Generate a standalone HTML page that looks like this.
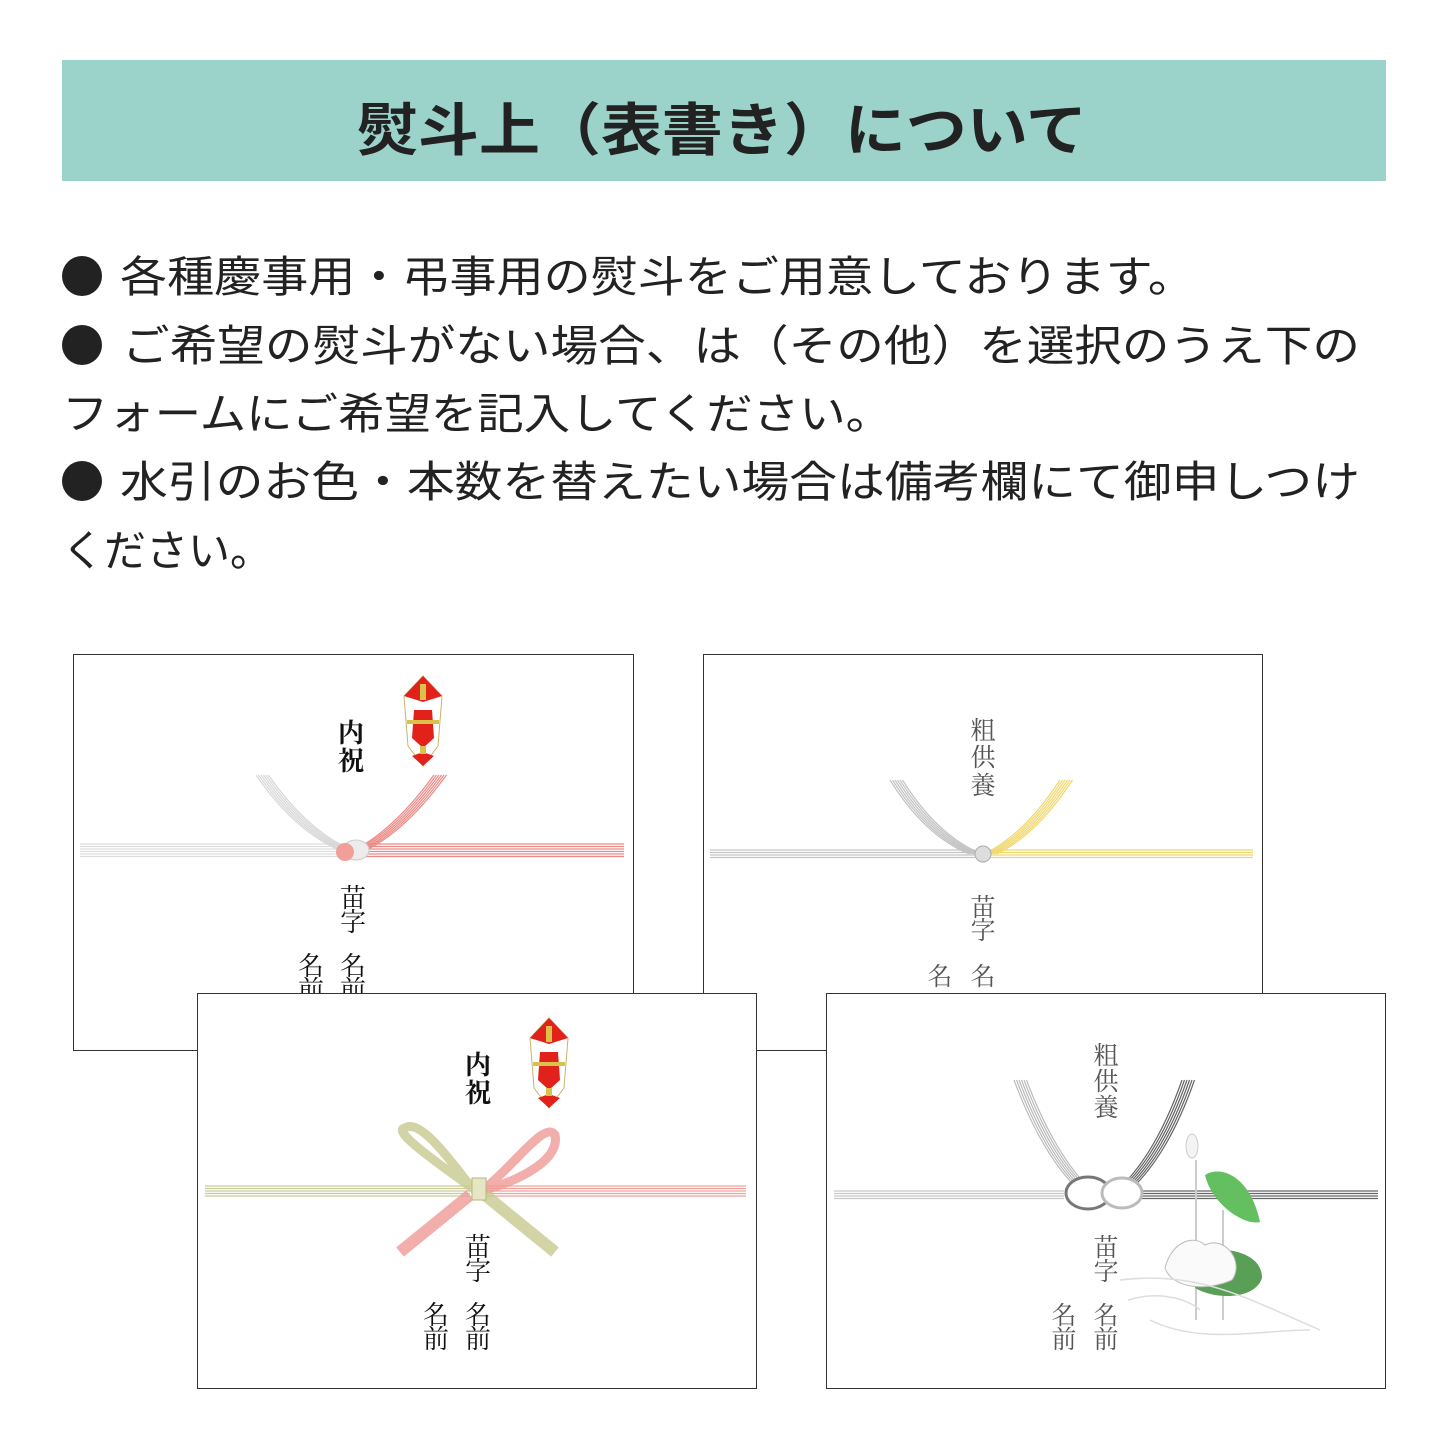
<!DOCTYPE html>
<html><head><meta charset="utf-8"><style>
html,body{margin:0;padding:0;background:#fff}
svg{display:block}
.s{font-family:"Liberation Serif","Noto Serif CJK JP","Noto Serif CJK SC",serif}
.g{font-family:"Liberation Sans","Noto Sans CJK JP",sans-serif}
</style></head><body>
<svg width="1445" height="1445" viewBox="0 0 1445 1445" xmlns="http://www.w3.org/2000/svg">
<defs>
<g id="noshi">
<path d="M19 0 L38 20 L34 70 L19 90 L4 70 L0 20 Z" fill="#fff" stroke="#c9b36a" stroke-width="1"/>
<path d="M19 0 L38 20 L19 26 L0 20 Z" fill="#e3211b"/>
<path d="M10 34 L28 34 L30 62 L19 72 L8 62 Z" fill="#e3211b"/>
<path d="M19 76 L30 80 L19 90 L8 80 Z" fill="#e3211b"/>
<rect x="16" y="8" width="6" height="16" fill="#d9c24a"/>
<rect x="3" y="44" width="32" height="4" fill="#d9c24a"/>
<rect x="16" y="70" width="6" height="8" fill="#d9c24a"/>
</g>
<path id="cL1" d="M262 775 Q300 830 345 850"/>
<path id="cR1" d="M440 775 Q400 830 360 850"/>
<path id="cL2" d="M896 780 Q930 835 975 854"/>
<path id="cR2" d="M1066 780 Q1030 835 990 854"/>
<path id="cL3" d="M1020 1080 Q1050 1160 1090 1195"/>
<path id="cR3" d="M1188 1080 Q1160 1160 1118 1195"/>
</defs>
<rect x="62" y="60" width="1324" height="121" fill="#9bd3ca"/>
<text x="722" y="150" text-anchor="middle" class="g" font-size="57" font-weight="bold" fill="#222" textLength="730" lengthAdjust="spacingAndGlyphs">熨斗上（表書き）について</text>

<g class="g" font-size="43" fill="#222">
<circle cx="82" cy="276" r="20"/>
<text x="120" y="292" textLength="1075" lengthAdjust="spacingAndGlyphs">各種慶事用・弔事用の熨斗をご用意しております。</text>
<circle cx="82" cy="345" r="20"/>
<text x="122" y="361" textLength="1238" lengthAdjust="spacingAndGlyphs">ご希望の熨斗がない場合、は（その他）を選択のうえ下の</text>
<text x="62" y="429" textLength="830" lengthAdjust="spacingAndGlyphs">フォームにご希望を記入してください。</text>
<circle cx="82" cy="481" r="20"/>
<text x="120" y="497" textLength="1240" lengthAdjust="spacingAndGlyphs">水引のお色・本数を替えたい場合は備考欄にて御申しつけ</text>
<text x="62" y="566" textLength="210" lengthAdjust="spacingAndGlyphs">ください。</text>
</g>

<!-- TL card -->
<rect x="73.5" y="654.5" width="560" height="396" fill="#fff" stroke="#333"/>
<g stroke-width="1.2">
<g stroke="#ddd"><line x1="80" y1="844" x2="345" y2="844"/><line x1="80" y1="846.5" x2="345" y2="846.5"/><line x1="80" y1="849" x2="345" y2="849"/><line x1="80" y1="851.5" x2="345" y2="851.5"/><line x1="80" y1="854" x2="345" y2="854"/><line x1="80" y1="856.5" x2="345" y2="856.5"/></g>
<g stroke="#ec8a86"><line x1="360" y1="844" x2="624" y2="844"/><line x1="360" y1="846.5" x2="624" y2="846.5"/><line x1="360" y1="849" x2="624" y2="849"/><line x1="360" y1="851.5" x2="624" y2="851.5"/><line x1="360" y1="854" x2="624" y2="854"/><line x1="360" y1="856.5" x2="624" y2="856.5"/></g>
<g fill="none" stroke="#d8d8d8"><use href="#cL1" x="-6"/><use href="#cL1" x="-3.5"/><use href="#cL1" x="-1"/><use href="#cL1" x="1.5"/><use href="#cL1" x="4"/><use href="#cL1" x="6.5"/></g>
<g fill="none" stroke="#ec8a86"><use href="#cR1" x="-6"/><use href="#cR1" x="-3.5"/><use href="#cR1" x="-1"/><use href="#cR1" x="1.5"/><use href="#cR1" x="4"/><use href="#cR1" x="6.5"/></g>
</g>
<ellipse cx="356" cy="850" rx="13" ry="10" fill="#ececec" stroke="#ccc"/>
<ellipse cx="345" cy="852" rx="9" ry="9" fill="#f29f9a"/>
<use href="#noshi" x="404" y="676"/>
<g class="s" font-size="26" fill="#111" text-anchor="middle">
<text x="351" y="742" font-weight="bold">内</text><text x="351" y="770" font-weight="bold">祝</text>
<text x="353" y="907">苗</text><text x="353" y="931">字</text>
<text x="311" y="975">名</text><text x="353" y="975">名</text>
<text x="311" y="999">前</text><text x="353" y="999">前</text>
</g>

<!-- TR card -->
<rect x="703.5" y="654.5" width="559" height="396" fill="#fff" stroke="#333"/>
<g stroke-width="1.2">
<g stroke="#c4c4c4"><line x1="710" y1="850" x2="975" y2="850"/><line x1="710" y1="852.5" x2="975" y2="852.5"/><line x1="710" y1="855" x2="975" y2="855"/><line x1="710" y1="857.5" x2="975" y2="857.5"/></g>
<g stroke="#f0d870"><line x1="990" y1="850" x2="1253" y2="850"/><line x1="990" y1="852.5" x2="1253" y2="852.5"/><line x1="990" y1="855" x2="1253" y2="855"/><line x1="990" y1="857.5" x2="1253" y2="857.5"/></g>
<g fill="none" stroke="#c4c4c4"><use href="#cL2" x="-6"/><use href="#cL2" x="-3.5"/><use href="#cL2" x="-1"/><use href="#cL2" x="1.5"/><use href="#cL2" x="4"/><use href="#cL2" x="6.5"/></g>
<g fill="none" stroke="#f0d870"><use href="#cR2" x="-6"/><use href="#cR2" x="-3.5"/><use href="#cR2" x="-1"/><use href="#cR2" x="1.5"/><use href="#cR2" x="4"/><use href="#cR2" x="6.5"/></g>
</g>
<ellipse cx="983" cy="854" rx="8" ry="8" fill="#ddd" stroke="#aaa"/>
<g class="s" font-size="25" fill="#555" text-anchor="middle">
<text x="983" y="739">粗</text><text x="983" y="766">供</text><text x="983" y="794">養</text>
<text x="983" y="916">苗</text><text x="983" y="939">字</text>
<text x="940" y="985">名</text><text x="983" y="985">名</text>
</g>

<!-- BL card -->
<rect x="197.5" y="993.5" width="559" height="395" fill="#fff" stroke="#333"/>
<g stroke-width="1.2">
<g stroke="#c9cb9a"><line x1="205" y1="1186" x2="470" y2="1186"/><line x1="205" y1="1188.5" x2="470" y2="1188.5"/><line x1="205" y1="1191" x2="470" y2="1191"/><line x1="205" y1="1193.5" x2="470" y2="1193.5"/><line x1="205" y1="1196" x2="470" y2="1196"/></g>
<g stroke="#f0a09c"><line x1="485" y1="1186" x2="746" y2="1186"/><line x1="485" y1="1188.5" x2="746" y2="1188.5"/><line x1="485" y1="1191" x2="746" y2="1191"/><line x1="485" y1="1193.5" x2="746" y2="1193.5"/><line x1="485" y1="1196" x2="746" y2="1196"/></g>
</g>
<path d="M475 1190 C440 1165 390 1130 405 1128 C420 1118 450 1160 472 1188" fill="none" stroke="#c8c98f" stroke-width="9" opacity="0.8"/>
<path d="M483 1190 C515 1165 545 1120 555 1135 C560 1160 520 1180 485 1190" fill="none" stroke="#ef9a96" stroke-width="9" opacity="0.8"/>
<path d="M470 1195 L400 1252" fill="none" stroke="#ef9a96" stroke-width="12" opacity="0.8"/>
<path d="M485 1195 L555 1252" fill="none" stroke="#c8c98f" stroke-width="12" opacity="0.8"/>
<rect x="472" y="1178" width="14" height="22" fill="#e6e6c4" stroke="#b5b67a"/>
<use href="#noshi" x="530" y="1018"/>
<g class="s" font-size="26" fill="#111" text-anchor="middle">
<text x="478" y="1074" font-weight="bold">内</text><text x="478" y="1102" font-weight="bold">祝</text>
<text x="478" y="1256">苗</text><text x="478" y="1280">字</text>
<text x="436" y="1324">名</text><text x="478" y="1324">名</text>
<text x="436" y="1348">前</text><text x="478" y="1348">前</text>
</g>

<!-- BR card -->
<rect x="826.5" y="993.5" width="559" height="395" fill="#fff" stroke="#333"/>
<g stroke-width="1.2">
<g stroke="#c8c8c8"><line x1="834" y1="1191" x2="1064" y2="1191"/><line x1="834" y1="1193.5" x2="1064" y2="1193.5"/><line x1="834" y1="1196" x2="1064" y2="1196"/><line x1="834" y1="1198.5" x2="1064" y2="1198.5"/></g>
<g stroke="#666"><line x1="1130" y1="1191" x2="1378" y2="1191"/><line x1="1130" y1="1193.5" x2="1378" y2="1193.5"/><line x1="1130" y1="1196" x2="1378" y2="1196"/><line x1="1130" y1="1198.5" x2="1378" y2="1198.5"/></g>
<g fill="none" stroke="#bbb"><use href="#cL3" x="-6"/><use href="#cL3" x="-3.5"/><use href="#cL3" x="-1"/><use href="#cL3" x="1.5"/><use href="#cL3" x="4"/><use href="#cL3" x="6.5"/></g>
<g fill="none" stroke="#666"><use href="#cR3" x="-6"/><use href="#cR3" x="-3.5"/><use href="#cR3" x="-1"/><use href="#cR3" x="1.5"/><use href="#cR3" x="4"/><use href="#cR3" x="6.5"/></g>
</g>
<ellipse cx="1088" cy="1193" rx="22" ry="16" fill="#fff" stroke="#777" stroke-width="3"/>
<ellipse cx="1122" cy="1193" rx="20" ry="15" fill="#fff" stroke="#bbb" stroke-width="3"/>
<line x1="1196" y1="1160" x2="1196" y2="1320" stroke="#ccc" stroke-width="2"/>
<line x1="1223" y1="1210" x2="1223" y2="1320" stroke="#ccc" stroke-width="2"/>
<path d="M1205 1175 C1220 1165 1250 1175 1260 1222 C1245 1226 1212 1205 1205 1175 Z" fill="#63bf5f"/>
<path d="M1195 1252 C1225 1245 1262 1252 1262 1278 C1255 1300 1215 1300 1195 1288 Z" fill="#5a9f56"/>
<ellipse cx="1192" cy="1146" rx="6" ry="12" fill="#f4f4f4" stroke="#ccc"/>
<path d="M1165 1268 C1172 1240 1195 1235 1205 1245 C1225 1235 1245 1262 1232 1280 C1205 1292 1172 1288 1165 1268 Z" fill="#fafafa" stroke="#bbb"/>
<path d="M1120 1280 C1200 1270 1250 1300 1320 1330 M1150 1320 C1200 1345 1260 1330 1310 1330 M1128 1300 C1160 1290 1190 1300 1200 1310" fill="none" stroke="#ddd" stroke-width="1.5"/>
<g class="s" font-size="25" fill="#555" text-anchor="middle">
<text x="1106" y="1064">粗</text><text x="1106" y="1090">供</text><text x="1106" y="1116">養</text>
<text x="1106" y="1256">苗</text><text x="1106" y="1280">字</text>
<text x="1064" y="1324">名</text><text x="1106" y="1324">名</text>
<text x="1064" y="1348">前</text><text x="1106" y="1348">前</text>
</g>
</svg>
</body></html>
